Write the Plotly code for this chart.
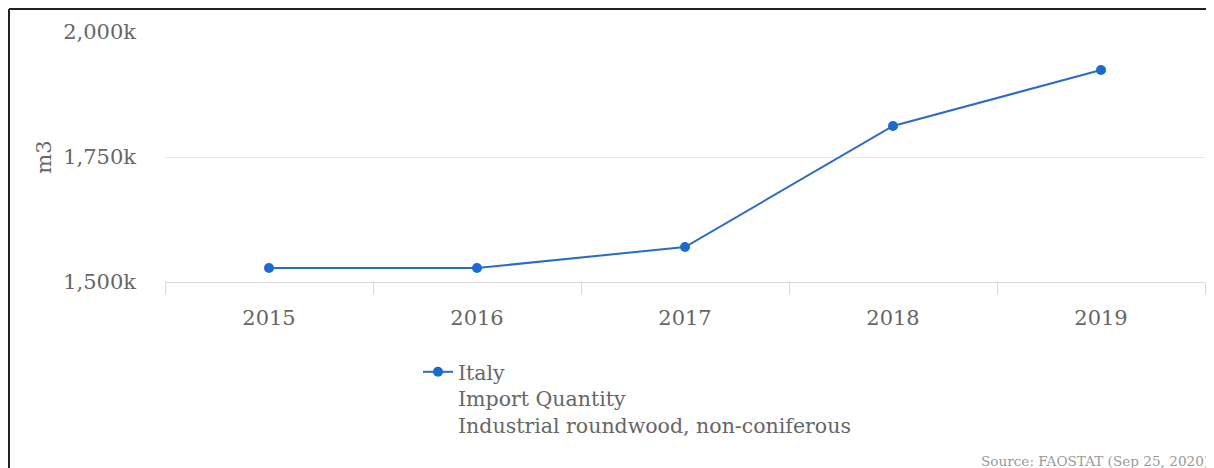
import plotly.graph_objects as go

years = ["2015", "2016", "2017", "2018", "2019"]
values = [1528000, 1528000, 1570000, 1812000, 1924000]
series_name = "Italy<br>Import Quantity<br>Industrial roundwood, non-coniferous"
y_ticks = [1500000, 1750000, 2000000]
y_tick_labels = ["1,500k", "1,750k", "2,000k"]
source_text = "Source: FAOSTAT (Sep 25, 2020)"

# page has an 8px body margin; figure coords = screen coords - 8
OFF = 8
W, H = 1214 - OFF, 468 - OFF
L, R, T, B = 165 - OFF, 9, 32 - OFF, 468 - 282
pw, ph = W - L - R, H - T - B

def px(x):
    return (x - OFF - L) / pw

def py(y):
    return (H - B - (y - OFF)) / ph

FONT = "DejaVu Serif"

fig = go.Figure()
fig.add_trace(go.Scatter(
    x=years, y=values, mode="lines+markers", name=series_name,
    line=dict(color="#2b6cc4", width=2),
    marker=dict(color="#1a6ad0", size=10),
    showlegend=True,
))

fig.update_layout(
    width=W, height=H,
    margin=dict(l=L, r=R, t=T, b=B, autoexpand=False),
    paper_bgcolor="white", plot_bgcolor="white",
    font=dict(family=FONT, color="#666666"),
    xaxis=dict(
        type="category", range=[-0.5, 4.5], showgrid=False,
        showline=True, linecolor="#d8d8d8", linewidth=1,
        ticks="outside", tickson="boundaries", ticklen=11, tickcolor="#d8d8d8",
        tickfont=dict(size=21, color="#666666", family=FONT),
        ticklabelstandoff=17,
    ),
    yaxis=dict(
        range=[1500000, 2000000], tickvals=y_ticks, ticktext=y_tick_labels,
        showgrid=True, gridcolor="#e6e6e6", gridwidth=1, zeroline=False,
        showline=False,
        tickfont=dict(size=21, color="#666666", family=FONT),
        ticklabelstandoff=28,
        title=dict(text="m3", font=dict(size=21, color="#666666", family=FONT), standoff=5),
    ),
    legend=dict(
        x=px(418), y=py(352), xanchor="left", yanchor="top", valign="top",
        font=dict(size=20.5, color="#666666", family=FONT),
        bgcolor="rgba(0,0,0,0)",
    ),
    showlegend=True,
)

fig.add_annotation(
    text=source_text, xref="paper", yref="paper",
    x=px(1211), y=py(461), xanchor="right", yanchor="middle",
    showarrow=False, font=dict(size=13.6, color="#999999", family=FONT),
)

# outer frame (top and left edges visible)
fig.add_shape(type="line", xref="paper", yref="paper",
              x0=px(OFF + 1), x1=px(1220), y0=py(OFF + 1), y1=py(OFF + 1),
              line=dict(color="#222222", width=2))
fig.add_shape(type="line", xref="paper", yref="paper",
              x0=px(OFF + 1), x1=px(OFF + 1), y0=py(OFF + 1), y1=py(480),
              line=dict(color="#222222", width=2))

fig.write_html("out.html")
